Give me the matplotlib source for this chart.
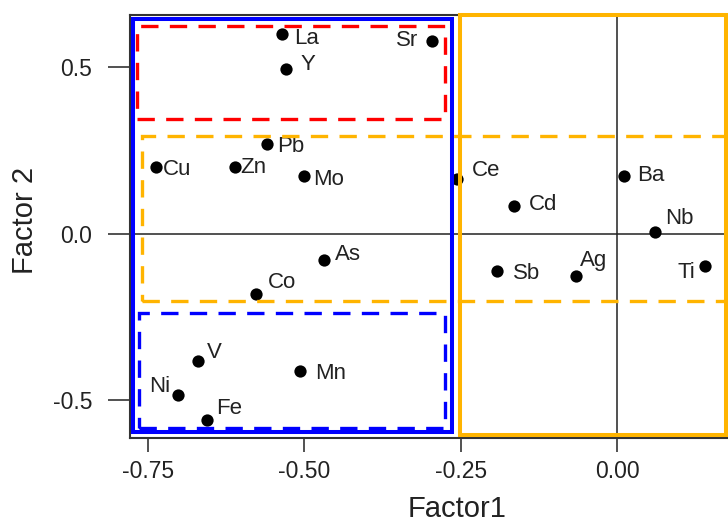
import matplotlib
matplotlib.use("Agg")
import matplotlib.pyplot as plt
from matplotlib.patches import Rectangle

plt.rcParams["font.family"] = ["Liberation Sans", "DejaVu Sans"]

# Factor loadings per element
elements = ["La", "Y", "Sr", "Pb", "Mo", "Cu", "Zn", "Ce", "Ba", "Cd",
            "Nb", "Ag", "Sb", "Ti", "As", "Co", "Mn", "V", "Ni", "Fe"]
factor1 = [-0.535, -0.529, -0.295, -0.559, -0.501, -0.737, -0.611, -0.256,
           0.011, -0.164, 0.061, -0.066, -0.191, 0.141, -0.468, -0.577,
           -0.507, -0.670, -0.701, -0.656]
factor2 = [0.600, 0.495, 0.580, 0.268, 0.172, 0.200, 0.200, 0.165,
           0.172, 0.083, 0.005, -0.127, -0.113, -0.097, -0.080, -0.183,
           -0.412, -0.382, -0.485, -0.560]

# label placement: (dx, dy) in pixels from the point, and alignment
label_pos = {
    "La": (12, -5, "left"), "Y": (15, 4, "left"), "Sr": (-14, 0, "right"),
    "Pb": (10, -2, "left"), "Mo": (10, -3, "left"), "Cu": (7, -3, "left"),
    "Zn": (6, -1, "left"), "Ce": (15, 8, "left"), "Ba": (13, 1, "left"),
    "Cd": (14, 1, "left"), "Nb": (10, 13, "left"), "Ag": (4, 15, "left"),
    "Sb": (15, -2, "left"), "Ti": (-10, -7, "right"), "As": (11, 6, "left"),
    "Co": (12, 12, "left"), "Mn": (15, -3, "left"), "V": (9, 8, "left"),
    "Ni": (-8, 8, "right"), "Fe": (10, 11, "left"),
}

# grouping boxes: (x0, x1, y0, y1, colour, dashed)
BLUE, RED, ORANGE = "#0000FF", "#FF0000", "#FFB400"
boxes = [
    (-0.7735, -0.2637, -0.597, 0.646, BLUE, False),
    (-0.2504, 0.1745, -0.607, 0.656, ORANGE, False),
    (-0.767, -0.2754, 0.345, 0.625, RED, True),
    (-0.7597, 0.30, -0.202, 0.292, ORANGE, True),
    (-0.7635, -0.2749, -0.585, -0.238, BLUE, True),
]

fig = plt.figure(figsize=(7.28, 5.22), dpi=100)
ax = fig.add_axes([130 / 728, 84.3 / 522, 598 / 728, 422.7 / 522])

ax.axhline(0, color="#222222", lw=1.1, zorder=1)
ax.axvline(0, color="#222222", lw=1.1, zorder=1)

ax.scatter(factor1, factor2, s=78, color="black", zorder=2, linewidths=0)
for name, x, y in zip(elements, factor1, factor2):
    dx, dy, ha = label_pos[name]
    ax.annotate(name, (x, y), xytext=(dx, dy), textcoords="offset pixels",
                ha=ha, va="center", fontsize=16, color="#222222")

for x0, x1, y0, y1, col, dashed in boxes:
    if dashed:
        rect = Rectangle((x0, y0), x1 - x0, y1 - y0, fill=False,
                         edgecolor=col, lw=2.4, linestyle=(0, (5.2, 3.4)),
                         zorder=3)
    else:
        rect = Rectangle((x0, y0), x1 - x0, y1 - y0, fill=False,
                         edgecolor=col, lw=2.9, zorder=3, clip_on=False)
    ax.add_patch(rect)

ax.set_xlim(-0.7783, 0.1774)
ax.set_ylim(-0.614, 0.657)

ax.set_xticks([-0.75, -0.5, -0.25, 0.0])
ax.set_xticklabels(["-0.75", "-0.50", "-0.25", "0.00"])
ax.set_yticks([-0.5, 0.0, 0.5])
ax.set_yticklabels(["-0.5", "0.0", "0.5"])
ax.tick_params(axis="y", direction="out", length=15.8, width=1.1, pad=11.5,
               labelsize=16.5, colors="#222222")
ax.tick_params(axis="x", direction="out", length=10, width=1.1, pad=6,
               labelsize=16.5, colors="#222222")

for side in ("left", "bottom", "top"):
    ax.spines[side].set_linewidth(1.5)
    ax.spines[side].set_color("#333333")
ax.spines["right"].set_visible(False)

fig.text(457 / 728, 5 / 522, "Factor1", ha="center", va="baseline",
         fontsize=21, color="#222222")
fig.text(25 / 728, 302 / 522, "Factor 2", ha="center", va="center",
         rotation=90, fontsize=21, color="#222222")

fig.savefig("out.png", dpi=100)
